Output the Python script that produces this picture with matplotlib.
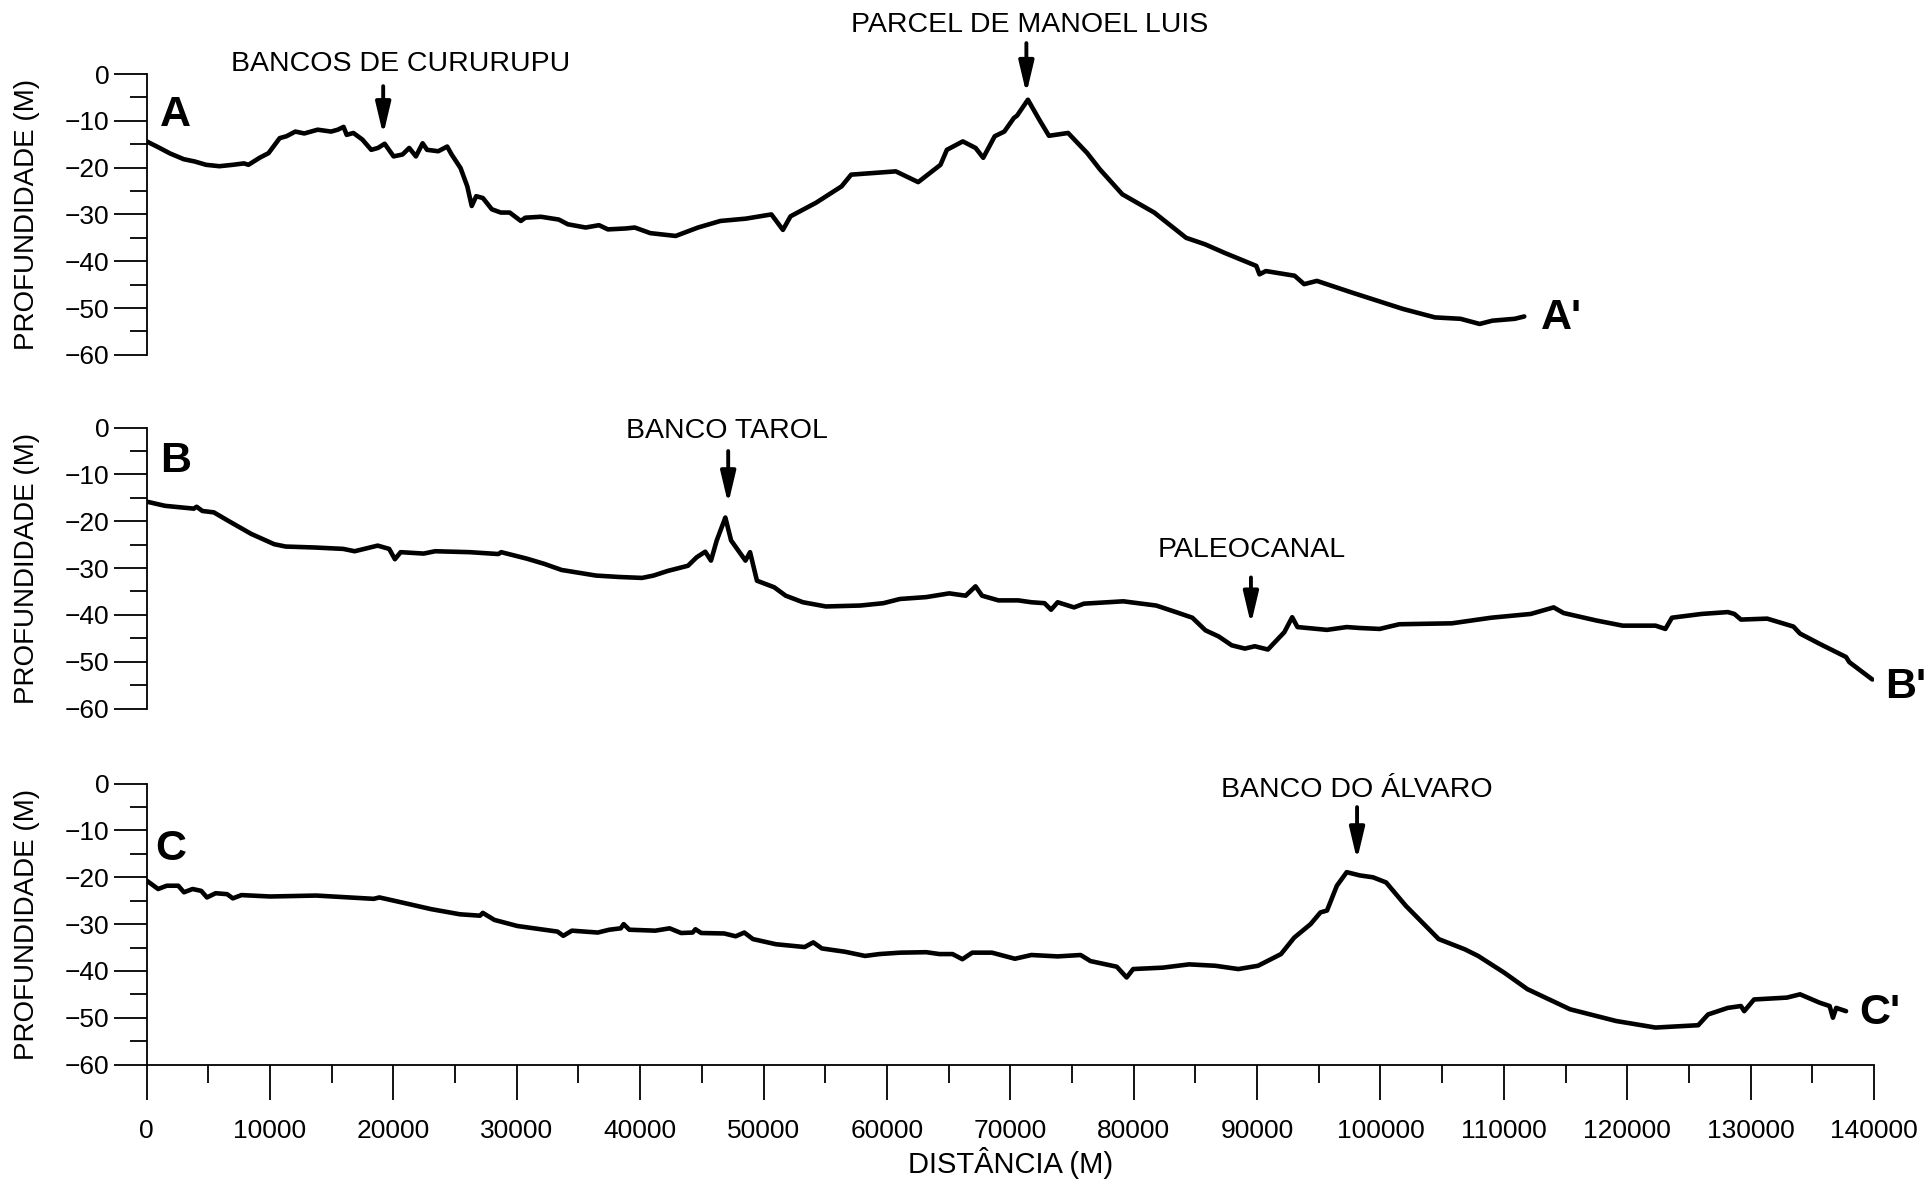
import matplotlib.pyplot as plt
from matplotlib.ticker import MultipleLocator

# perfil A
dist_a = [0, 832, 1918, 3004, 3909, 4814, 5899, 6985, 7890, 8252, 9157, 9881, 10785, 11328,
          12052, 12776, 13862, 14948, 15490, 15961, 16214, 16757, 17481, 18205, 18748, 19290,
          20014, 20738, 21281, 21824, 22367, 22729, 23634, 24358, 24719, 25443, 25986, 26348,
          26710, 27253, 27977, 28701, 29425, 30330, 30691, 31958, 33406, 34130, 35578, 36663,
          37387, 38835, 39559, 40825, 42879, 44689, 46499, 48568, 50636, 51567, 52187, 54256,
          56324, 57100, 59168, 60719, 62529, 64339, 64856, 66148, 67183, 67803, 68734, 69510,
          70285, 70544, 71423, 72354, 73130, 74681, 76232, 77267, 79077, 81662, 84247, 85798,
          87350, 89935, 90193, 90710, 93038, 93813, 94847, 97692, 101828, 104414, 106482,
          108033, 109068, 110878, 111653]
prof_a = [-14.4, -15.5, -17.0, -18.2, -18.7, -19.4, -19.7, -19.4, -19.1, -19.4, -17.9, -16.9,
          -13.7, -13.3, -12.3, -12.7, -11.9, -12.3, -11.9, -11.3, -13.0, -12.6, -14.0, -16.2,
          -15.8, -14.9, -17.6, -17.2, -15.8, -17.6, -14.8, -16.2, -16.5, -15.5, -17.2, -20.1,
          -24.0, -28.2, -26.1, -26.5, -28.9, -29.6, -29.6, -31.4, -30.7, -30.5, -31.1, -32.1,
          -32.8, -32.3, -33.2, -33.0, -32.8, -34.0, -34.6, -32.8, -31.4, -30.9, -30.0, -33.3,
          -30.4, -27.5, -24.0, -21.5, -21.1, -20.8, -23.1, -19.4, -16.2, -14.4, -15.8, -17.9,
          -13.3, -12.3, -9.4, -8.9, -5.5, -9.8, -13.2, -12.6, -16.9, -20.4, -25.7, -29.6,
          -35.0, -36.4, -38.2, -41.0, -42.8, -42.1, -43.1, -44.9, -44.2, -46.7, -50.2, -52.0,
          -52.3, -53.4, -52.7, -52.3, -51.8]

# perfil B
dist_b = [0, 1490, 3819, 4052, 4518, 5449, 6614, 8477, 10340, 11272, 13600, 15929, 16861,
          18724, 19655, 20121, 20587, 22450, 23381, 26176, 28505, 28738, 30834, 32231, 33628,
          36423, 38286, 40149, 41080, 42245, 43875, 44574, 45273, 45738, 46204, 46903, 47368,
          48533, 48905, 49464, 50862, 51793, 53190, 55054, 57848, 59711, 61054, 63184, 65048,
          66379, 67178, 67710, 69041, 70639, 71704, 72769, 73301, 73834, 75166, 75964, 79159,
          81821, 83418, 84750, 85815, 86879, 87944, 89009, 89808, 90873, 92204, 92843, 93270,
          95665, 97263, 98328, 99926, 101523, 105783, 108978, 112173, 114037, 114836, 117498,
          119628, 122290, 123089, 123621, 126018, 128147, 128680, 129212, 131342, 133472,
          134004, 135602, 137732, 137998, 139862]
prof_b = [-15.8, -16.7, -17.3, -16.9, -17.8, -18.1, -19.9, -22.7, -24.9, -25.4, -25.6, -25.9,
          -26.4, -25.2, -25.9, -28.1, -26.6, -26.9, -26.4, -26.6, -27.0, -26.6, -28.0, -29.1,
          -30.4, -31.6, -31.9, -32.1, -31.6, -30.6, -29.5, -27.7, -26.5, -28.4, -24.1, -19.2,
          -24.1, -28.4, -26.6, -32.7, -34.1, -35.9, -37.3, -38.2, -38.0, -37.5, -36.6, -36.2,
          -35.4, -35.9, -33.9, -35.9, -36.9, -36.9, -37.3, -37.5, -38.9, -37.3, -38.4, -37.6,
          -37.1, -38.0, -39.4, -40.6, -43.3, -44.6, -46.5, -47.2, -46.7, -47.4, -43.7, -40.5,
          -42.6, -43.2, -42.6, -42.8, -43.0, -42.0, -41.8, -40.6, -39.8, -38.4, -39.6, -41.2,
          -42.3, -42.3, -43.0, -40.6, -39.8, -39.4, -39.8, -41.0, -40.8, -42.5, -44.0, -46.2,
          -49.0, -50.1, -53.8]

# perfil C
dist_c = [0, 932, 1630, 2562, 3027, 3726, 4425, 4890, 5589, 6521, 6987, 7685, 10014, 13740,
          18398, 18864, 20727, 23055, 25384, 27015, 27247, 28179, 30042, 33302, 33768, 34467,
          36563, 37494, 38426, 38659, 39124, 41220, 42385, 43316, 44248, 44481, 44946, 46809,
          47741, 48440, 49138, 51002, 53330, 54029, 54728, 56591, 58221, 59385, 61054, 63184,
          64250, 65314, 66113, 66912, 68510, 70373, 71704, 73834, 75698, 76496, 78626, 79425,
          79957, 82354, 84484, 86613, 88477, 90075, 91938, 93003, 94334, 95133, 95665, 96464,
          97263, 98328, 99393, 100458, 102055, 104718, 106848, 107913, 110043, 111907, 115368,
          119095, 122290, 125751, 126550, 128147, 129212, 129478, 130277, 132939, 134004,
          135602, 136400, 136667, 136933, 137732]
prof_c = [-20.7, -22.5, -21.8, -21.8, -23.2, -22.5, -22.9, -24.3, -23.4, -23.6, -24.5, -23.8,
          -24.1, -23.9, -24.6, -24.3, -25.4, -26.8, -27.9, -28.2, -27.6, -29.1, -30.4, -31.6,
          -32.5, -31.4, -31.8, -31.2, -30.9, -30.0, -31.2, -31.4, -30.9, -31.9, -31.8, -31.1,
          -31.9, -32.0, -32.6, -31.8, -33.2, -34.3, -34.9, -33.9, -35.2, -35.9, -36.8, -36.4,
          -36.1, -36.0, -36.4, -36.4, -37.5, -36.1, -36.1, -37.4, -36.6, -36.9, -36.6, -37.9,
          -39.1, -41.4, -39.6, -39.3, -38.6, -38.9, -39.6, -38.9, -36.4, -32.9, -30.0, -27.5,
          -27.1, -21.8, -18.9, -19.6, -20.0, -21.1, -26.1, -33.2, -35.4, -36.8, -40.4, -43.9,
          -48.2, -50.7, -52.1, -51.6, -49.3, -47.9, -47.5, -48.6, -46.1, -45.7, -45.0, -46.8,
          -47.5, -50.0, -47.9, -48.6]

xticks = list(range(0, 140001, 10000))
yticks = [0, -10, -20, -30, -40, -50, -60]

perfis = [
    ('A', "A'", dist_a, prof_a, (1100, -8.7), (113000, -52.1)),
    ('B', "B'", dist_b, prof_b, (1100, -7.1), (140900, -55.3)),
    ('C', "C'", dist_c, prof_c, (700, -14.0), (138800, -48.9)),
]

# (painel, texto, x texto, y texto, x seta, y cauda, y ponta)
notas = [
    (0, 'BANCOS DE CURURUPU', 20560, 2.1, 19172, -2.6, -13.0),
    (0, 'PARCEL DE MANOEL LUIS', 71600, 10.5, 71300, 6.6, -4.2),
    (1, 'BANCO TAROL', 47000, -0.8, 47133, -5.0, -16.3),
    (1, 'PALEOCANAL', 89600, -26.2, 89500, -32.0, -42.0),
    (2, 'BANCO DO ÁLVARO', 98100, -1.3, 98100, -5.0, -16.3),
]

plt.rcParams['font.family'] = ['Liberation Sans', 'DejaVu Sans']

fig = plt.figure(figsize=(19.32, 11.84), dpi=100)
bottoms = [0.7003, 0.4016, 0.1009]
axes = []
for i, (let, let2, d, p, pos1, pos2) in enumerate(perfis):
    ax = fig.add_axes([0.0759, bottoms[i], 0.8941, 0.2372])
    ax.plot(d, p, color='black', lw=3.3, solid_joinstyle='round', solid_capstyle='round')
    ax.set_xlim(0, 140000)
    ax.set_ylim(-60, 0)
    for s in ['top', 'right']:
        ax.spines[s].set_visible(False)
    ax.spines['left'].set_linewidth(1.3)
    ax.yaxis.set_minor_locator(MultipleLocator(5))
    ax.set_yticks(yticks)
    ax.tick_params(axis='y', which='major', direction='out', length=24, width=1.3, pad=3,
                   labelsize=19)
    ax.tick_params(axis='y', which='minor', direction='out', length=12, width=1.3)
    ax.set_ylabel('PROFUNDIDADE (M)', fontsize=20)
    if i < 2:
        ax.spines['bottom'].set_visible(False)
        ax.set_xticks([])
        ax.xaxis.set_minor_locator(plt.NullLocator())
    else:
        ax.spines['bottom'].set_linewidth(1.3)
        ax.set_xticks(xticks)
        ax.xaxis.set_minor_locator(MultipleLocator(5000))
        ax.tick_params(axis='x', which='major', direction='out', length=25, width=1.3, pad=14,
                       labelsize=19)
        ax.tick_params(axis='x', which='minor', direction='out', length=13, width=1.3)
        ax.set_xlabel('DISTÂNCIA (M)', fontsize=21, labelpad=3)
    ax.text(pos1[0], pos1[1], let, fontsize=31, fontweight='bold', ha='left', va='center')
    ax.text(pos2[0], pos2[1], let2, fontsize=31, fontweight='bold', ha='left', va='center',
            clip_on=False)
    axes.append(ax)

for k, txt, tx, ty, ax_x, y0, y1 in notas:
    ax = axes[k]
    ax.text(tx, ty, txt, fontsize=20.5, ha='center', va='center', clip_on=False)
    ax.annotate('', xy=(ax_x, y1), xytext=(ax_x, y0),
                arrowprops=dict(arrowstyle='-|>,head_length=1.9,head_width=0.45',
                                lw=2.8, color='black', mutation_scale=10,
                                shrinkA=0, shrinkB=0))

for ax in axes:
    ax.yaxis.set_label_coords(-0.062, 0.5)

fig.savefig('out.png', dpi=100)
